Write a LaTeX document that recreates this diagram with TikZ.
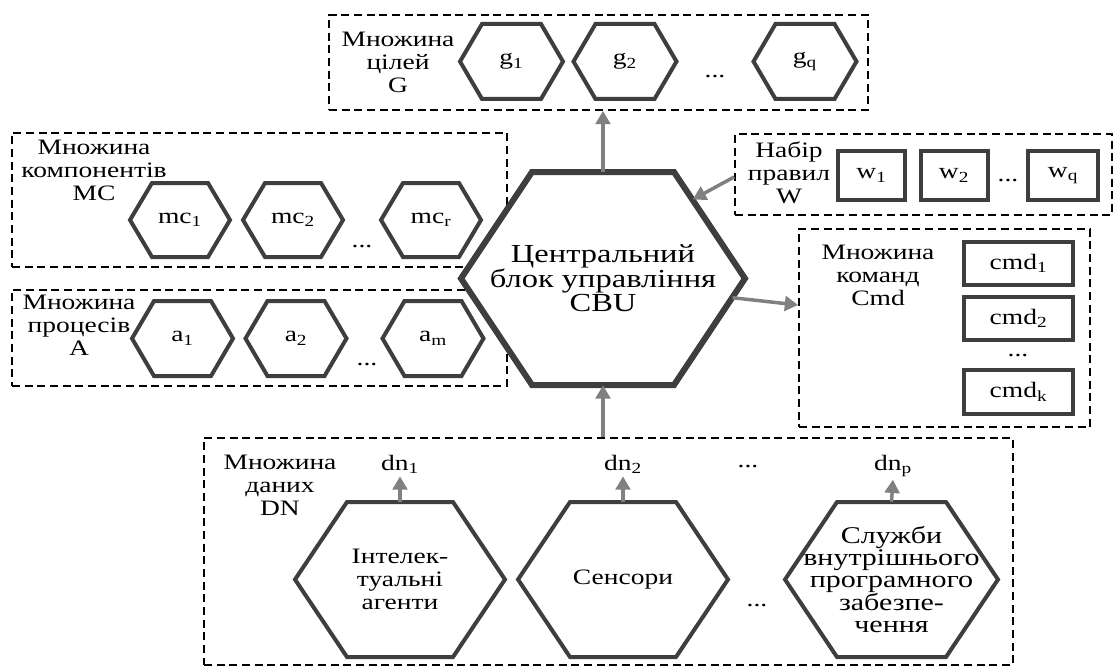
\documentclass[tikz,border=0pt]{standalone}
\usepackage{fontspec}
\setmainfont{Liberation Serif}[FakeStretch=1.25]
\usetikzlibrary{arrows.meta,calc}

\definecolor{hexgray}{RGB}{62,62,62}
\definecolor{arrgray}{RGB}{128,128,128}

\tikzset{
  lbl/.style={font=\fontsize{16.5}{17.3}\selectfont, align=center, inner sep=0pt},
  biglbl/.style={lbl, font=\fontsize{19.5}{18.5}\selectfont},
  setbox/.style={draw=black, line width=1.3pt, dash pattern=on 6pt off 3.5pt, inner sep=0pt},
  hexbody/.style={lbl, draw=none},
  hexline/.style={draw=hexgray, line width=3pt, line join=miter, fill=white},
  bigline/.style={hexline, line width=4.5pt},
  itembox/.style={lbl, draw=hexgray, line width=3pt, fill=white},
  flow/.style={draw=arrgray, line width=2.6pt, -{Triangle[length=10pt,width=11pt]}},
}

% hexagon with flat top and bottom: style, name, cx, cy, width, height, slant, label
\newcommand{\hexat}[8]{%
  \draw[#1] ({#3-#5/2},#4) -- ({#3-#5/2+#7},{#4-#6/2}) -- ({#3+#5/2-#7},{#4-#6/2})
    -- ({#3+#5/2},#4) -- ({#3+#5/2-#7},{#4+#6/2}) -- ({#3-#5/2+#7},{#4+#6/2}) -- cycle;
  \node[hexbody, minimum width=#5*0.75pt, minimum height=#6*0.75pt] (#2) at (#3,#4) {#8};
}
% dashed frame of a set: name, x1, y1, x2, y2
\newcommand{\setframe}[5]{%
  \node[setbox, minimum width={(#4-#2)*0.75pt}, minimum height={(#5-#3)*0.75pt}]
    (#1) at ({(#2+#4)/2},{(#3+#5)/2}) {};
}

\begin{document}
\begin{tikzpicture}[x=0.75pt,y=-0.75pt]
\useasboundingbox (0,0) rectangle (1114,667);

% ---------- set frames ----------
\setframe{boxG}{329}{15}{868}{110}
\setframe{boxMC}{12}{133}{507}{267}
\setframe{boxA}{12}{290}{507}{386}
\setframe{boxW}{735}{134}{1112}{215}
\setframe{boxCmd}{799}{229}{1090}{427}
\setframe{boxDN}{204}{438}{1013}{665}

% ---------- goals G ----------
\node[lbl] (tG) at (398,62) {Множина\\цілей\\G};
\hexat{hexline}{g1}{511.5}{61.5}{103}{75}{22}{g\textsubscript{1}}
\hexat{hexline}{g2}{625}{61.5}{103}{75}{22}{g\textsubscript{2}}
\node[lbl] (gdots) at (715,77) {...};
\hexat{hexline}{gq}{805}{61.5}{103}{75}{22}{g\textsubscript{q}}

% ---------- components MC ----------
\node[lbl] (tMC) at (94,170) {Множина\\компонентів\\МС};
\hexat{hexline}{mc1}{180}{220}{100}{74}{22}{mc\textsubscript{1}}
\hexat{hexline}{mc2}{293}{220}{100}{74}{22}{mc\textsubscript{2}}
\node[lbl] (mcdots) at (362,247) {...};
\hexat{hexline}{mcr}{431}{220}{100}{74}{22}{mc\textsubscript{r}}

% ---------- processes A ----------
\node[lbl] (tA) at (79,325) {Множина\\процесів\\А};
\hexat{hexline}{a1}{182.5}{338.5}{101}{75}{22}{a\textsubscript{1}}
\hexat{hexline}{a2}{296}{338.5}{101}{75}{22}{a\textsubscript{2}}
\node[lbl] (adots) at (367,365) {...};
\hexat{hexline}{am}{433}{338.5}{101}{75}{22}{a\textsubscript{m}}

% ---------- rules W ----------
\node[lbl] (tW) at (789,173) {Набір\\правил\\W};
\node[itembox, minimum width=67*0.75pt, minimum height=49*0.75pt] (w1) at (871.5,175.5) {w\textsubscript{1}};
\node[itembox, minimum width=67*0.75pt, minimum height=49*0.75pt] (w2) at (954,175.5) {w\textsubscript{2}};
\node[lbl] (wdots) at (1008,181) {...};
\node[itembox, minimum width=70*0.75pt, minimum height=49*0.75pt] (wq) at (1063,175.5) {w\textsubscript{q}};

% ---------- commands Cmd ----------
\node[lbl] (tCmd) at (878,275) {Множина\\команд\\Cmd};
\node[itembox, minimum width=109*0.75pt, minimum height=43*0.75pt] (cmd1) at (1018.5,263.5) {cmd\textsubscript{1}};
\node[itembox, minimum width=109*0.75pt, minimum height=43*0.75pt] (cmd2) at (1018.5,318.5) {cmd\textsubscript{2}};
\node[lbl] (cmddots) at (1018,356) {...};
\node[itembox, minimum width=109*0.75pt, minimum height=44*0.75pt] (cmdk) at (1018.5,392) {cmd\textsubscript{k}};

% ---------- central control block ----------
\hexat{bigline}{cbu}{603}{278.5}{284}{213}{71}{}
\node[biglbl] (cbutext) at (cbu) {Центральний\\блок управління\\CBU};
\coordinate (cbu-tr) at ([xshift=-53.25pt]cbu.north east);
\coordinate (cbu-br) at ([xshift=-53.25pt]cbu.south east);

% ---------- data DN ----------
\node[lbl] (tDN) at (280,485) {Множина\\даних\\DN};
\hexat{hexline}{h1}{400}{579.5}{210}{155}{52}{Інтелек-\\туальні\\агенти}
\hexat{hexline}{h2}{623}{579.5}{210}{155}{52}{Сенсори}
\node[lbl] (hdots) at (757,606) {...};
\hexat{hexline}{h3}{891.5}{579.5}{213}{155}{52}{}
\node[lbl, font=\fontsize{18}{16.8}\selectfont] (h3text) at (h3) {Служби\\внутрішнього\\програмного\\забезпе-\\чення};
\node[lbl, anchor=base, inner sep=2pt] (dn1) at (400,470) {dn\textsubscript{1}};
\node[lbl, anchor=base, inner sep=2pt] (dn2) at (623,470) {dn\textsubscript{2}};
\node[lbl] (dndots) at (748,467) {...};
\node[lbl, anchor=base, inner sep=2pt] (dnp) at (893,470) {dn\textsubscript{p}};

% ---------- flows ----------
\draw[flow] (cbu.north) -- (cbu.north |- boxG.south);
\draw[flow] (boxW.west |- 0,177) -- ($(cbu.east)!0.74!(cbu-tr)$);
\draw[flow] ($(cbu.east)!0.18!(cbu-br)$) -- (boxCmd.west |- 0,305);
\draw[flow] (cbu.south |- boxDN.north) -- (cbu.south);
\draw[flow] (h1.north) -- (dn1.south);
\draw[flow] (h2.north) -- (dn2.south);
\draw[flow] (h3.north) -- (dnp.south);
\end{tikzpicture}
\end{document}
